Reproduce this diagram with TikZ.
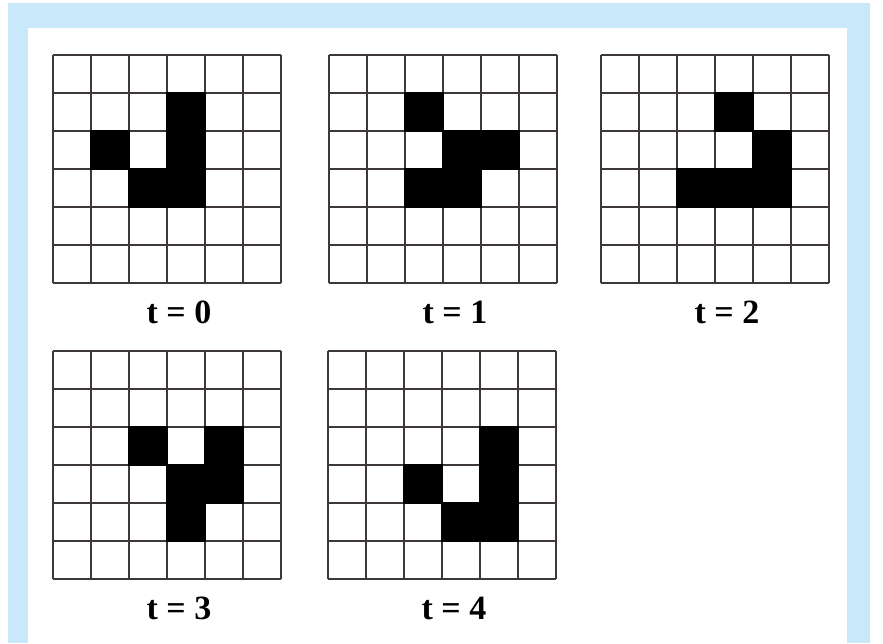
\documentclass[tikz,border=0pt]{standalone}
\usepackage{fontspec}
\setmainfont{Liberation Serif}
\begin{document}
\begin{tikzpicture}[x=1pt,y=-1pt,font=\fontsize{34}{40}\selectfont\bfseries]
  \definecolor{framebg}{RGB}{201,232,249}
  \definecolor{gridline}{RGB}{62,56,56}
  \tikzset{
    cellline/.style={draw=gridline,line width=1.4pt},
    livecell/.style={fill=black},
    steplabel/.style={anchor=center,inner sep=0pt}
  }

  \useasboundingbox (0,0) rectangle (883,643);
  \fill[framebg] (8,3) rectangle (870,643);
  \fill[white] (28,28) rectangle (847,643);

  % one 6x6 board per time step: left, top, t, live cells (row/col)
  \foreach \gx/\gy/\lab/\cells in {53/55/0/{1/3,2/1,2/3,3/2,3/3},
                                  329/55/1/{1/2,2/3,2/4,3/2,3/3},
                                  601/55/2/{1/3,2/4,3/2,3/3,3/4},
                                  53/351/3/{2/2,2/4,3/3,3/4,4/3},
                                  328/351/4/{2/4,3/2,3/4,4/3,4/4}}
  {
    \begin{scope}[shift={(\gx,\gy)}]
      \foreach \k in {0,...,6}
        {\draw[cellline] (\k*38,0) -- (\k*38,228);
         \draw[cellline] (0,\k*38) -- (228,\k*38);}
      \foreach \r/\c in \cells
        {\fill[livecell] (\c*38-0.7,\r*38-0.7) rectangle ++(39.4,39.4);}
      \node[steplabel] (lab\lab) at (126,257) {t = \lab};
    \end{scope}
  }
\end{tikzpicture}
\end{document}
